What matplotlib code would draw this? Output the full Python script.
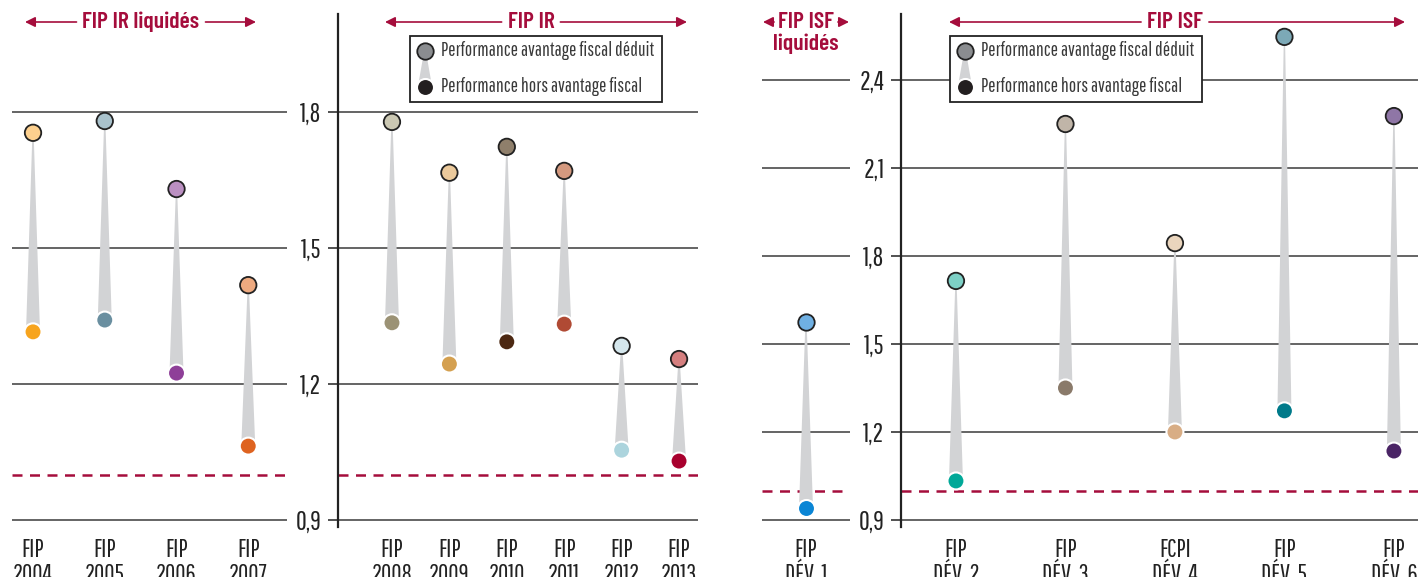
import matplotlib
matplotlib.use("Agg")
import matplotlib.pyplot as plt
from matplotlib import font_manager
from matplotlib.patches import Polygon, Rectangle, FancyArrowPatch
from matplotlib.ticker import FuncFormatter

W, H = 1418, 577

# ---- data ----
ir_liq_labels = ["FIP\n2004", "FIP\n2005", "FIP\n2006", "FIP\n2007"]
ir_liq_avec = [1.754, 1.780, 1.630, 1.418]
ir_liq_hors = [1.315, 1.341, 1.224, 1.063]
ir_liq_top_colors = ["#fdd08e", "#a9c2cc", "#bb90c2", "#eeaa80"]
ir_liq_bot_colors = ["#f7a41d", "#6a8fa0", "#8e3f98", "#de6320"]

ir_labels = ["FIP\n2008", "FIP\n2009", "FIP\n2010", "FIP\n2011", "FIP\n2012", "FIP\n2013"]
ir_avec = [1.778, 1.666, 1.723, 1.670, 1.284, 1.255]
ir_hors = [1.335, 1.244, 1.293, 1.332, 1.054, 1.030]
ir_top_colors = ["#cbc8b3", "#ecca9c", "#8f7f6b", "#d4997f", "#d4e6ec", "#d57f7f"]
ir_bot_colors = ["#9b9275", "#d4a050", "#4c2812", "#b04a34", "#acd4dd", "#a8002e"]

isf_liq_labels = ["FIP\nDÉV. 1"]
isf_liq_avec = [1.575]
isf_liq_hors = [0.941]
isf_liq_top_colors = ["#6fb0e3"]
isf_liq_bot_colors = ["#0a85d5"]

isf_labels = ["FIP\nDÉV. 2", "FIP\nDÉV. 3", "FCPI\nDÉV. 4", "FIP\nDÉV. 5", "FIP\nDÉV. 6"]
isf_avec = [1.715, 2.250, 1.844, 2.547, 2.277]
isf_hors = [1.033, 1.350, 1.200, 1.272, 1.135]
isf_top_colors = ["#7dd0c6", "#c0b5a8", "#ead5bd", "#7ca9b7", "#8f76a6"]
isf_bot_colors = ["#00a898", "#8a7a6a", "#d8ad85", "#007a8a", "#4a2465"]

ir_ticks = [0.9, 1.2, 1.5, 1.8]
isf_ticks = [0.9, 1.2, 1.5, 1.8, 2.1, 2.4]

CRIMSON = "#a50d3c"
GRID = "#3a3a3a"
WEDGE = "#d2d3d5"

installed = {f.name for f in font_manager.fontManager.ttflist}


def pick(cands):
    for c in cands:
        if c in installed:
            return c
    return "DejaVu Sans"


BODY = pick(["Pathway Gothic One", "Barlow Condensed", "Roboto Condensed", "Oswald"])
HEAD = pick(["Barlow Condensed", "Roboto Condensed", "Oswald", "Pathway Gothic One"])
plt.rcParams["font.family"] = [BODY, "DejaVu Sans"]

fig = plt.figure(figsize=(W / 100, H / 100), dpi=100)
renderer = fig.canvas.get_renderer()


def add_ax(l, r, ylim):
    ax = fig.add_axes([l / W, 1 - 527 / H, (r - l) / W, 513 / H])
    ax.set_ylim(*ylim)
    ax.set_facecolor("none")
    for s in ax.spines.values():
        s.set_visible(False)
    return ax


def draw_group(ax, l, r, xlim, labels, avec, hors, top_c, bot_c, ticks):
    ax.set_xlim(*xlim)
    for t in ticks:
        ax.axhline(t, color=GRID, lw=1.1, zorder=1)
    ax.axhline(1.0, color=CRIMSON, lw=1.8, dashes=(4, 3), zorder=1)
    px = (xlim[1] - xlim[0]) / (r - l)
    xs = list(range(len(labels)))
    for x, a, h in zip(xs, avec, hors):
        poly = Polygon([(x - 0.6 * px, a), (x + 0.6 * px, a),
                        (x + 7 * px, h), (x - 7 * px, h)],
                       closed=True, color=WEDGE, lw=0, zorder=2)
        ax.add_patch(poly)
    ax.scatter(xs, hors, s=150, c=bot_c, edgecolors="white", linewidths=1.5, zorder=3)
    ax.scatter(xs, avec, s=140, c=top_c, edgecolors="#222222", linewidths=1.3, zorder=4)
    ax.set_xticks(xs)
    ax.set_xticklabels(labels, fontsize=18, color="#222222", linespacing=1.05)
    ax.tick_params(axis="x", length=0, pad=8)


def fmt(v, pos):
    return f"{v:.1f}".replace(".", ",")


ylim_ir = (0.8846, 2.016)
ylim_isf = (0.876, 2.625)

ax1 = add_ax(12, 287, ylim_ir)
draw_group(ax1, 12, 287, (-0.293, 3.54), ir_liq_labels, ir_liq_avec, ir_liq_hors,
           ir_liq_top_colors, ir_liq_bot_colors, ir_ticks)
ax1.set_yticks([])

ax2 = add_ax(338, 698, ylim_ir)
draw_group(ax2, 338, 698, (-0.94, 5.33), ir_labels, ir_avec, ir_hors,
           ir_top_colors, ir_bot_colors, ir_ticks)

ax3 = add_ax(762, 850, ylim_isf)
draw_group(ax3, 762, 850, (-0.5, 0.5), isf_liq_labels, isf_liq_avec, isf_liq_hors,
           isf_liq_top_colors, isf_liq_bot_colors, isf_ticks)
ax3.set_yticks([])

ax4 = add_ax(901, 1418, ylim_isf)
draw_group(ax4, 901, 1418, (-0.502, 4.22), isf_labels, isf_avec, isf_hors,
           isf_top_colors, isf_bot_colors, isf_ticks)

for ax, ticks in ((ax2, ir_ticks), (ax4, isf_ticks)):
    ax.spines["left"].set_visible(True)
    ax.spines["left"].set_color("#222222")
    ax.spines["left"].set_linewidth(1.6)
    ax.set_yticks(ticks)
    ax.yaxis.set_major_formatter(FuncFormatter(fmt))
    ax.tick_params(axis="y", length=7, width=1.1, color="#222222", pad=5,
                   labelsize=19, labelcolor="#222222")


# ---- headers with arrows ----
def fx(p):
    return p / W


def fy(p):
    return 1 - p / H


def arrow(x0, x1, y):
    fig.add_artist(FancyArrowPatch(
        (fx(x0), fy(y)), (fx(x1), fy(y)), transform=fig.transFigure,
        arrowstyle="-|>,head_length=6,head_width=3", color=CRIMSON, lw=1.2,
        shrinkA=0, shrinkB=0))


def head_text(x, y, text):
    return fig.text(fx(x), fy(y), text, ha="center", va="center", fontsize=17,
                    fontweight="semibold", family=[HEAD, "DejaVu Sans"], color=CRIMSON)


def header(x0, x1, xc, y, text, gap=6):
    t = head_text(xc, y, text)
    bb = t.get_window_extent(renderer)
    arrow(bb.x0 - gap, x0, y)
    arrow(bb.x1 + gap, x1, y)


header(25, 256, 141, 22, "FIP IR liquidés")
header(385, 687, 531, 22, "FIP IR")
header(763, 849, 806, 22, "FIP ISF", gap=4)
head_text(806, 44, "liquidés")
header(949, 1405, 1175, 22, "FIP ISF")


# ---- legend boxes ----
def legend_box(x0):
    fig.add_artist(Rectangle((fx(x0), fy(102)), 252 / W, 66 / H, transform=fig.transFigure,
                             fc="white", ec="#222222", lw=1.3, zorder=5))
    cx = x0 + 15
    fig.add_artist(Polygon([(fx(cx - 1), fy(52)), (fx(cx + 1), fy(52)),
                            (fx(cx + 7), fy(86)), (fx(cx - 7), fy(86))],
                           closed=True, transform=fig.transFigure, color=WEDGE, lw=0, zorder=6))
    lx = fig.add_axes([0, 0, 1, 1], zorder=7)
    lx.set_xlim(0, W)
    lx.set_ylim(H, 0)
    lx.axis("off")
    lx.scatter([cx], [87], s=150, c="#231f20", edgecolors="white", linewidths=1.5)
    lx.scatter([cx], [51], s=140, c="#8b8d90", edgecolors="#222222", linewidths=1.3)
    lx.text(x0 + 31, 51, "Performance avantage fiscal déduit", va="center", ha="left",
            fontsize=14, color="#3a3a3a")
    lx.text(x0 + 31, 87, "Performance hors avantage fiscal", va="center", ha="left",
            fontsize=14, color="#3a3a3a")


legend_box(410)
legend_box(950)

fig.savefig("out.png", dpi=100)
